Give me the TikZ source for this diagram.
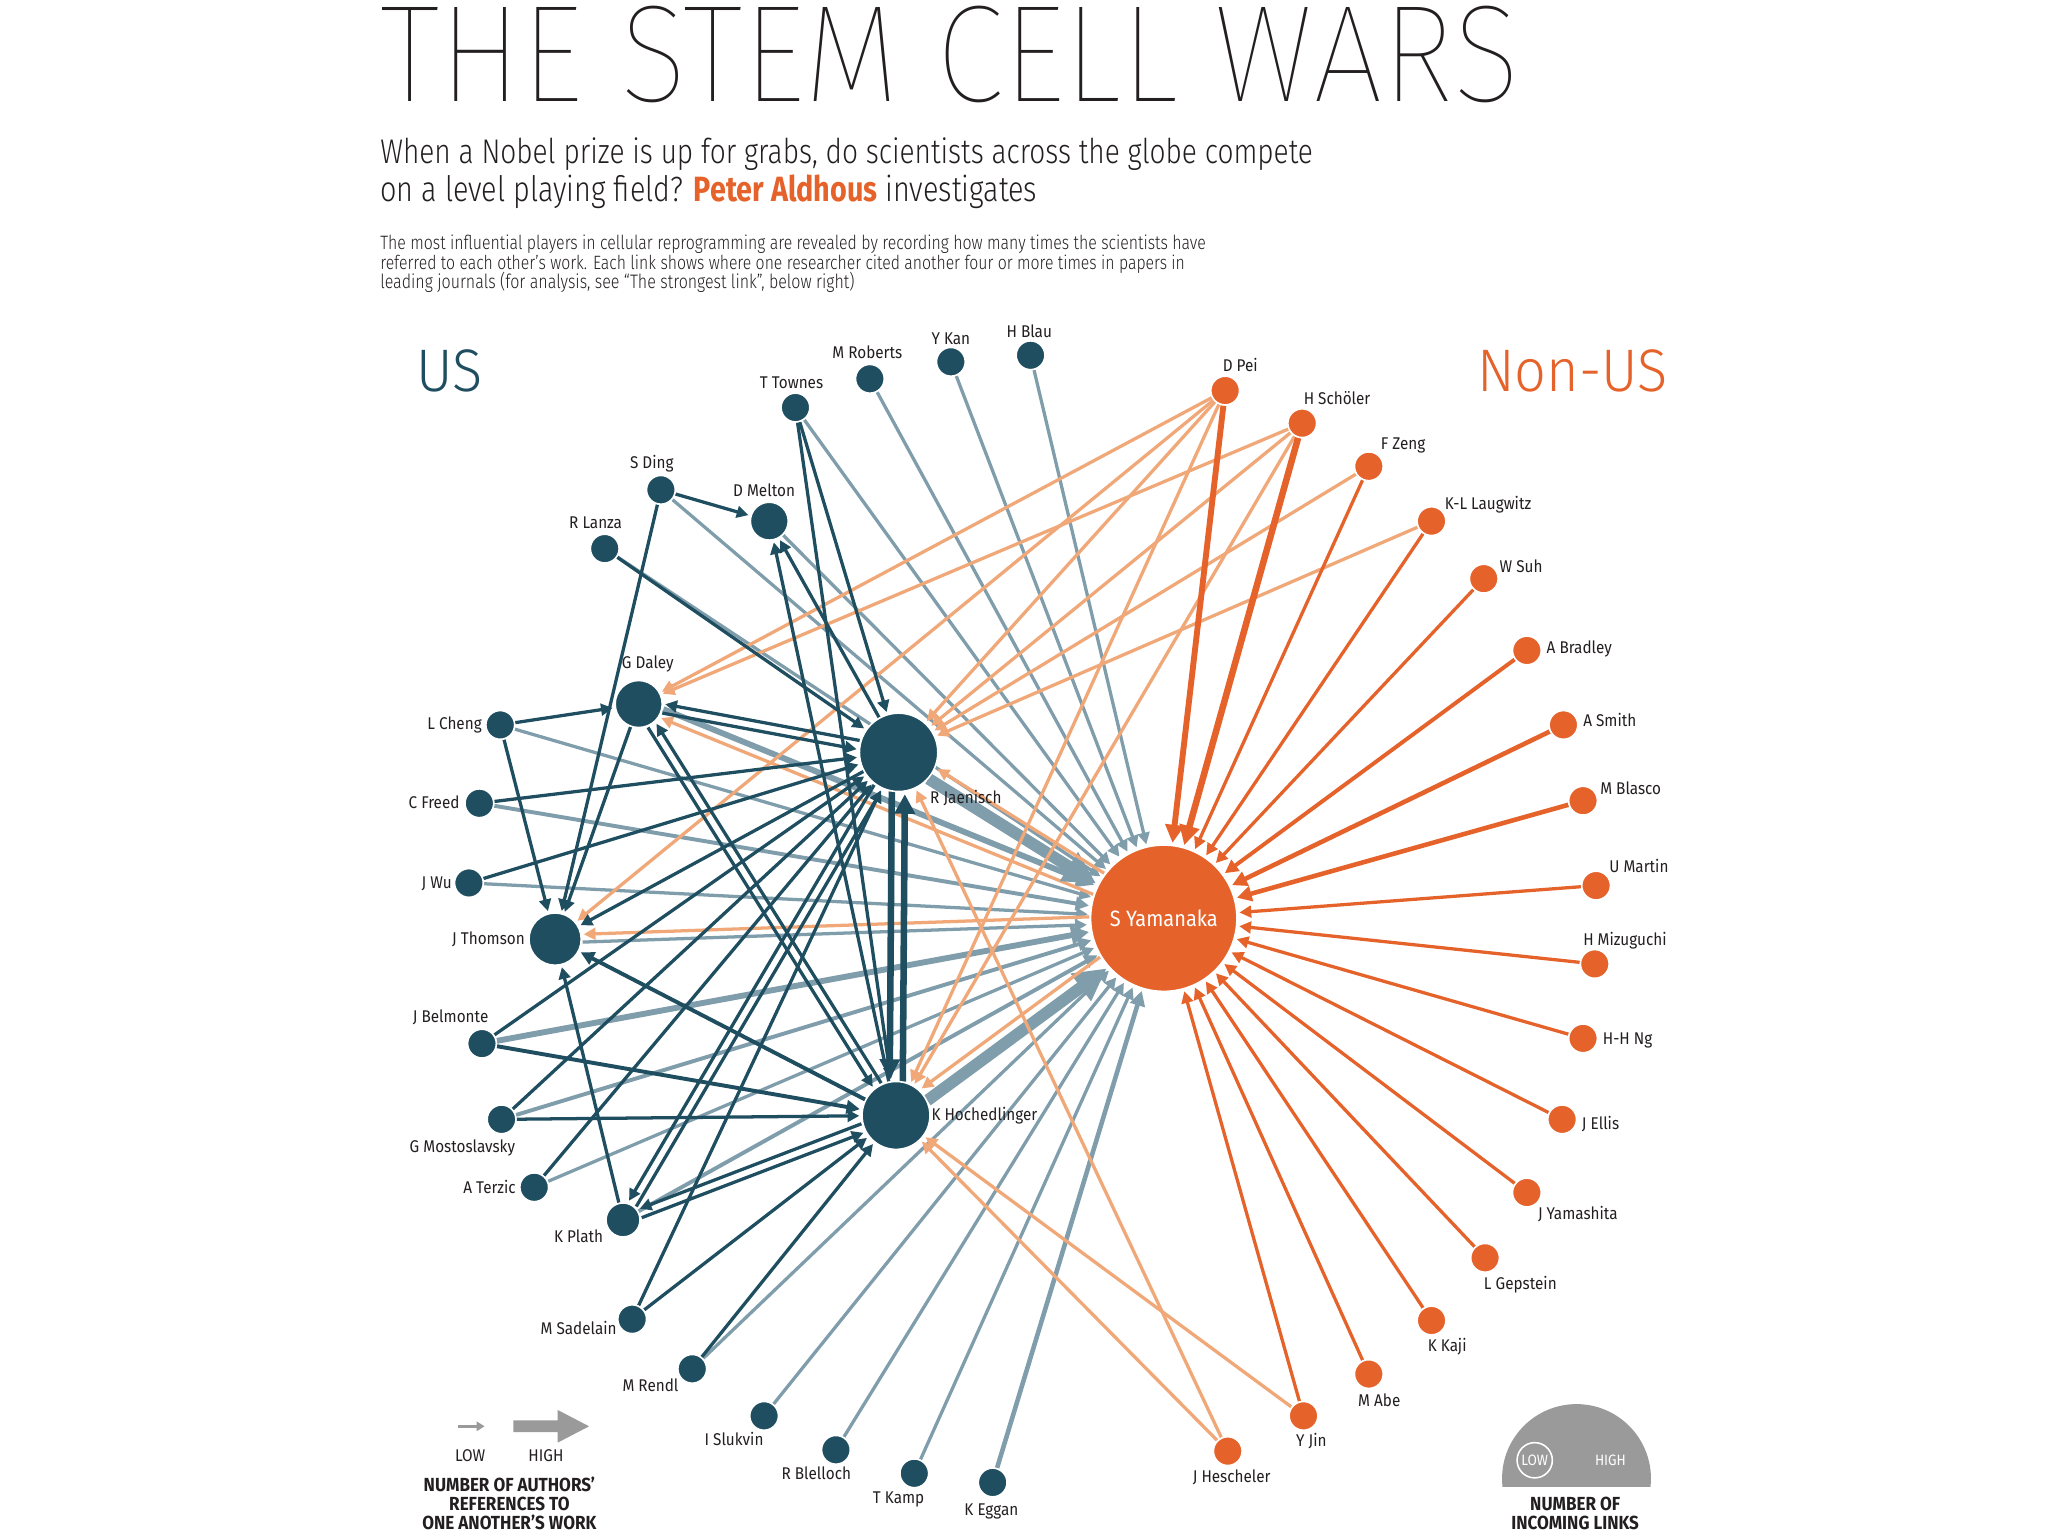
\documentclass[tikz,border=0pt]{standalone}
\usepackage{fontspec}
\usetikzlibrary{arrows.meta,calc}
\setmainfont{Fira Sans}
\IfFontExistsTF{Fira Sans Thin}{\newfontfamily\titlefont{Fira Sans Thin}}{\newfontfamily\titlefont{Fira Sans}}
\IfFontExistsTF{Fira Sans Light}{\newfontfamily\lightfont{Fira Sans Light}[FakeStretch=0.93]\newfontfamily\condlight{Fira Sans Light}[FakeStretch=0.82]}{\newfontfamily\lightfont{Fira Sans}[FakeStretch=0.93]\newfontfamily\condlight{Fira Sans}[FakeStretch=0.82]}
\newfontfamily\condbold{Fira Sans}[FakeStretch=0.82]
\newfontfamily\labfont{Fira Sans}[FakeStretch=0.9]
\newcommand\lf{\labfont\fontsize{13pt}{15pt}\selectfont}
\definecolor{usc}{HTML}{1E4E60}
\definecolor{grc}{HTML}{7F9DAB}
\definecolor{orc}{HTML}{E5622A}
\definecolor{lorc}{HTML}{F1A878}
\definecolor{labc}{HTML}{231F20}
\definecolor{legc}{HTML}{9A9A9A}
\pgfdeclarelayer{bg}
\pgfsetlayers{bg,main}
\newcommand\plineA[4]{\draw[#1] ($(#2)!#4!90:(#3)$) -- ($(#3)!#4!-90:(#2)$);}
\newcommand\plineB[4]{\draw[#1] ($(#2)!#4!-90:(#3)$) -- ($(#3)!#4!90:(#2)$);}
\tikzset{
  atip/.style={-{Triangle[length=3pt 2.4, width=3pt 2.4]}},
  ge/.style={draw=grc, line width=#1, atip, shorten >=1.5pt},
  de/.style={draw=usc, line width=#1, atip, shorten >=1.5pt},
  oe/.style={draw=orc, line width=#1, atip, shorten >=1.5pt},
  le/.style={draw=lorc, line width=#1, atip, shorten >=1.5pt},
  usn/.style={circle, fill=usc, draw=white, line width=1.2pt, inner sep=0pt, minimum size=#1},
  orn/.style={circle, fill=orc, draw=white, line width=1.2pt, inner sep=0pt, minimum size=#1},
  lab/.style={font=\lf, text=labc, inner sep=0pt, anchor=base},
  labR/.style={lab, anchor=base west},
  labL/.style={lab, anchor=base east},
  legt/.style={font=\labfont\fontsize{13pt}{14pt}\selectfont, text=labc, inner sep=0pt, anchor=base},
  legb/.style={font=\labfont\bfseries\fontsize{14.5pt}{16pt}\selectfont, text=labc, inner sep=0pt, anchor=base},
  txt/.style={inner sep=0pt, anchor=base west, text=labc}
}
\begin{document}
\begin{tikzpicture}[x=1pt,y=-1pt]
\useasboundingbox (0,0) rectangle (1568,1176);
% ---------- heading ----------
\node[txt] (title) at (291,78) {\resizebox{872pt}{73pt}{\titlefont THE STEM CELL WARS}};
\node[txt] (sub1) at (291,125) {\resizebox{714pt}{!}{\condlight When a Nobel prize is up for grabs, do scientists across the globe compete}};
\node[txt] (sub2) at (291,154) {\resizebox{503pt}{!}{\condlight on a level playing field? {\condbold\bfseries\color{orc}Peter Aldhous} investigates}};
\node[txt] (body1) at (291,191) {\resizebox{632pt}{!}{\condlight The most influential players in cellular reprogramming are revealed by recording how many times the scientists have}};
\node[txt] (body2) at (291,206) {\resizebox{616pt}{!}{\condlight referred to each other’s work. Each link shows where one researcher cited another four or more times in papers in}};
\node[txt] (body3) at (291,221) {\resizebox{363pt}{!}{\condlight leading journals (for analysis, see “The strongest link”, below right)}};
\node[inner sep=0pt, anchor=base west, text=usc, font=\lightfont\fontsize{46pt}{50pt}\selectfont] (us) at (319,300) {US};
\node[inner sep=0pt, anchor=base east, text=orc, font=\lightfont\fontsize{46pt}{50pt}\selectfont] (nonus) at (1277,300) {Non-US};
% ---------- US nodes ----------
\node[usn=22] (mrob) at (666,290) {};
\node[usn=22] (ykan) at (728,277) {};
\node[usn=22] (hblau) at (789,272) {};
\node[usn=22] (ttow) at (609,312) {};
\node[usn=22] (sding) at (506,375) {};
\node[usn=29] (dmel) at (589,399) {};
\node[usn=22] (rlan) at (463,420) {};
\node[usn=36] (gdal) at (489,539) {};
\node[usn=22] (lche) at (383,555) {};
\node[usn=22] (cfre) at (367,615) {};
\node[usn=22] (jwu) at (359,676) {};
\node[usn=40] (jtho) at (425,719) {};
\node[usn=22] (jbel) at (369,799) {};
\node[usn=22] (gmos) at (384,857) {};
\node[usn=22] (ater) at (409,909) {};
\node[usn=26] (kpla) at (477,934) {};
\node[usn=22] (msad) at (484,1010) {};
\node[usn=22] (mren) at (530,1048) {};
\node[usn=22] (islu) at (585,1084) {};
\node[usn=22] (rble) at (640,1110) {};
\node[usn=22] (tkam) at (700,1128) {};
\node[usn=22] (kegg) at (760,1135) {};
\node[usn=60] (jae) at (688,576) {};
\node[usn=52] (hoc) at (686,854) {};
% ---------- non-US nodes ----------
\node[orn=112] (yam) at (891,703) {};
\node[orn=22] (dpei) at (938,299) {};
\node[orn=22] (hsch) at (997,324) {};
\node[orn=22] (fzeng) at (1048,357) {};
\node[orn=22] (klla) at (1096,399) {};
\node[orn=22] (wsuh) at (1136,443) {};
\node[orn=22] (abra) at (1169,498) {};
\node[orn=22] (asmi) at (1197,555) {};
\node[orn=22] (mbla) at (1212,613) {};
\node[orn=22] (umar) at (1222,678) {};
\node[orn=22] (hmiz) at (1221,738) {};
\node[orn=22] (hhng) at (1212,795) {};
\node[orn=22] (jell) at (1196,857) {};
\node[orn=22] (jyam) at (1169,913) {};
\node[orn=22] (lgep) at (1137,963) {};
\node[orn=22] (kkaj) at (1096,1011) {};
\node[orn=22] (mabe) at (1048,1052) {};
\node[orn=22] (yjin) at (998,1084) {};
\node[orn=22] (jhes) at (940,1111) {};
% ---------- labels ----------
\node[lab] (l-mrob) at (664,274.5) {M Roberts};
\node[lab] (l-ykan) at (728,263.5) {Y Kan};
\node[lab] (l-hblau) at (788,258.5) {H Blau};
\node[lab] (l-ttow) at (606,297.5) {T Townes};
\node[lab] (l-sding) at (499,358.5) {S Ding};
\node[lab] (l-dmel) at (585,380.5) {D Melton};
\node[lab] (l-rlan) at (456,404.5) {R Lanza};
\node[lab] (l-gdal) at (496,511.5) {G Daley};
\node[labL] (l-lche) at (369,558.5) {L Cheng};
\node[labL] (l-cfre) at (352,619) {C Freed};
\node[labL] (l-jwu) at (346,680.5) {J Wu};
\node[labL] (l-jtho) at (402,723) {J Thomson};
\node[lab] (l-jbel) at (345,783) {J Belmonte};
\node[lab] (l-gmos) at (354,882) {G Mostoslavsky};
\node[labL] (l-ater) at (395,913.5) {A Terzic};
\node[lab] (l-kpla) at (443,951.5) {K Plath};
\node[lab] (l-msad) at (443,1022) {M Sadelain};
\node[lab] (l-mren) at (498,1065.5) {M Rendl};
\node[lab] (l-islu) at (562,1107) {I Slukvin};
\node[lab] (l-rble) at (625,1133) {R Blelloch};
\node[lab] (l-tkam) at (688,1151) {T Kamp};
\node[lab] (l-kegg) at (759,1160) {K Eggan};
\node[labR] (l-jae) at (712,615.5) {R Jaenisch};
\node[labR] (l-hoc) at (713,857.5) {K Hochedlinger};
\node[font=\labfont\fontsize{17pt}{20pt}\selectfont, text=white, inner sep=0pt] (l-yam) at (yam) {S Yamanaka};
\node[labR] (l-dpei) at (936,284.5) {D Pei};
\node[labR] (l-hsch) at (998,309.5) {H Schöler};
\node[labR] (l-fzeng) at (1057,344.5) {F Zeng};
\node[labR] (l-klla) at (1106,390) {K-L Laugwitz};
\node[labR] (l-wsuh) at (1148,438.5) {W Suh};
\node[labR] (l-abra) at (1184,500.5) {A Bradley};
\node[labR] (l-asmi) at (1212,556) {A Smith};
\node[labR] (l-mbla) at (1225,608) {M Blasco};
\node[labR] (l-umar) at (1232,668) {U Martin};
\node[labR] (l-hmiz) at (1212,724) {H Mizuguchi};
\node[labR] (l-hhng) at (1227,799.5) {H-H Ng};
\node[labR] (l-jell) at (1211,865) {J Ellis};
\node[lab] (l-jyam) at (1208,933.5) {J Yamashita};
\node[lab] (l-lgep) at (1164,987) {L Gepstein};
\node[lab] (l-kkaj) at (1108,1034.5) {K Kaji};
\node[lab] (l-mabe) at (1056,1076.5) {M Abe};
\node[lab] (l-yjin) at (1004,1107.5) {Y Jin};
\node[lab] (l-jhes) at (943,1135) {J Hescheler};
% ---------- legends ----------
\coordinate (lowa) at (351,1092);
\coordinate (lowb) at (371,1092);
\draw[legc, line width=2.2pt, -{Triangle[length=6pt, width=7pt]}] (lowa) -- (lowb);
\fill[legc] (393,1087.5) -- (427,1087.5) -- (427,1079.5) -- (451,1092) -- (427,1104.5) -- (427,1096.5) -- (393,1096.5) -- cycle;
\node[legt] (lowt) at (360,1119) {LOW};
\node[legt] (hight) at (418,1119) {HIGH};
\node[legb] (leg1) at (390,1142) {NUMBER OF AUTHORS’};
\node[legb] (leg2) at (390,1156.5) {REFERENCES TO};
\node[legb] (leg3) at (390,1171) {ONE ANOTHER’S WORK};
\begin{scope}
\clip (1140,1060) rectangle (1280,1138);
\fill[legc] (1207,1132) circle[radius=57];
\end{scope}
\node[circle, draw=white, line width=1.2pt, minimum size=27pt, inner sep=0pt, text=white, font=\labfont\fontsize{11.5pt}{12pt}\selectfont] (lowc) at (1175,1118) {LOW};
\node[text=white, inner sep=0pt, font=\labfont\fontsize{11.5pt}{12pt}\selectfont] (highc) at (1233,1118) {HIGH};
\node[legb] (leg4) at (1206,1156.5) {NUMBER OF};
\node[legb] (leg5) at (1206,1171) {INCOMING LINKS};
% ---------- edges ----------
\begin{pgfonlayer}{bg}
\fill[white] (0,0) rectangle (1568,1176);
% grey: US -> Yamanaka
\draw[ge=2.5] (mrob) -- (yam);
\draw[ge=2.5] (ykan) -- (yam);
\draw[ge=2.5] (hblau) -- (yam);
\draw[ge=2.5] (ttow) -- (yam);
\draw[ge=2.5] (sding) -- (yam);
\draw[ge=2.5] (dmel) -- (yam);
\draw[ge=2.5] (rlan) -- (yam);
\draw[ge=2.5] (lche) -- (yam);
\draw[ge=3] (cfre) -- (yam);
\draw[ge=2.5] (jwu) -- (yam);
\draw[ge=4.5] (jbel) -- (yam);
\draw[ge=3] (gmos) -- (yam);
\draw[ge=2.5] (ater) -- (yam);
\draw[ge=3] (kpla) -- (yam);
\draw[ge=2.5] (mren) -- (yam);
\draw[ge=2.5] (islu) -- (yam);
\draw[ge=2.5] (rble) -- (yam);
\draw[ge=2.5] (tkam) -- (yam);
\draw[ge=3.5] (kegg) -- (yam);
\plineA{ge=4.5, shorten <=19pt, shorten >=59pt}{gdal}{yam}{3.5pt}
\plineA{le=2.5, shorten <=57pt, shorten >=20pt}{yam}{gdal}{3.5pt}
\plineB{ge=2.5, shorten <=21pt, shorten >=59pt}{jtho}{yam}{3pt}
\plineB{le=2.5, shorten <=57pt, shorten >=22pt}{yam}{jtho}{3pt}
\plineB{ge=9, shorten <=30pt, shorten >=58pt}{jae}{yam}{5pt}
\plineB{le=2.5, shorten <=57pt, shorten >=32pt}{yam}{jae}{5pt}
\plineB{ge=9, shorten <=26pt, shorten >=58pt}{hoc}{yam}{5pt}
\plineB{le=2.5, shorten <=57pt, shorten >=28pt}{yam}{hoc}{5pt}
% light orange: non-US -> US
\draw[le=2.5] (dpei) -- (gdal);
\draw[le=2.5] (dpei) -- (jae);
\draw[le=2.5] (dpei) -- (jtho);
\draw[le=2.5] (dpei) -- (hoc);
\draw[le=2.5] (hsch) -- (gdal);
\draw[le=2.5] (hsch) -- (jae);
\draw[le=2.5] (hsch) -- (hoc);
\draw[le=2.5] (fzeng) -- (jae);
\draw[le=2.5] (klla) -- (jae);
\draw[le=2.5] (yjin) -- (hoc);
\draw[le=2.5] (jhes) -- (jae);
\draw[le=2.5] (jhes) -- (hoc);
% orange: non-US -> Yamanaka
\draw[oe=4.5] (dpei) -- (yam);
\draw[oe=5] (hsch) -- (yam);
\draw[oe=2.5] (fzeng) -- (yam);
\draw[oe=2.5] (klla) -- (yam);
\draw[oe=2.5] (wsuh) -- (yam);
\draw[oe=3] (abra) -- (yam);
\draw[oe=3.5] (asmi) -- (yam);
\draw[oe=3.5] (mbla) -- (yam);
\draw[oe=2.5] (umar) -- (yam);
\draw[oe=2.5] (hmiz) -- (yam);
\draw[oe=2.5] (hhng) -- (yam);
\draw[oe=2.5] (jell) -- (yam);
\draw[oe=2.5] (jyam) -- (yam);
\draw[oe=2.5] (lgep) -- (yam);
\draw[oe=2.5] (kkaj) -- (yam);
\draw[oe=2.5] (mabe) -- (yam);
\draw[oe=2.5] (yjin) -- (yam);
% dark: US -> US
\draw[de=2.5] (sding) -- (dmel);
\draw[de=2.5] (sding) -- (jtho);
\draw[de=2.5] (rlan) -- (jae);
\draw[de=2.5] (ttow) -- (jae);
\draw[de=2.5] (ttow) -- (hoc);
\draw[de=2.5] (jae) -- (dmel);
\draw[de=2.5] (hoc) -- (dmel);
\draw[de=2.5] (lche) -- (gdal);
\draw[de=2.5] (lche) -- (jtho);
\draw[de=2.5] (gdal) -- (jtho);
\draw[de=2.5] (cfre) -- (jae);
\draw[de=2.5] (jwu) -- (jae);
\draw[de=2.5] (jae) -- (jtho);
\draw[de=3] (hoc) -- (jtho);
\draw[de=2.5] (kpla) -- (jtho);
\draw[de=2.5] (jbel) -- (jae);
\draw[de=3] (jbel) -- (hoc);
\draw[de=2.5] (gmos) -- (jae);
\draw[de=2.5] (gmos) -- (hoc);
\draw[de=2.5] (ater) -- (jae);
\draw[de=2.5] (msad) -- (jae);
\draw[de=2.5] (msad) -- (hoc);
\draw[de=2.5] (mren) -- (hoc);
\plineB{de=2.5, shorten <=19pt, shorten >=32pt}{gdal}{jae}{3.5pt}
\plineB{de=2.5, shorten <=31pt, shorten >=20pt}{jae}{gdal}{3.5pt}
\plineB{de=2.5, shorten <=19pt, shorten >=28pt}{gdal}{hoc}{3.5pt}
\plineB{de=2.5, shorten <=27pt, shorten >=20pt}{hoc}{gdal}{3.5pt}
\plineB{de=2.5, shorten <=14pt, shorten >=32pt}{kpla}{jae}{3.5pt}
\plineB{de=2.5, shorten <=31pt, shorten >=15pt}{jae}{kpla}{3.5pt}
\plineB{de=2.5, shorten <=14pt, shorten >=28pt}{kpla}{hoc}{3.5pt}
\plineB{de=2.5, shorten <=27pt, shorten >=15pt}{hoc}{kpla}{3.5pt}
\plineB{de=5, shorten <=30pt, shorten >=28pt}{jae}{hoc}{5pt}
\plineB{de=5, shorten <=26pt, shorten >=32pt}{hoc}{jae}{5pt}
\end{pgfonlayer}
\end{tikzpicture}
\end{document}
